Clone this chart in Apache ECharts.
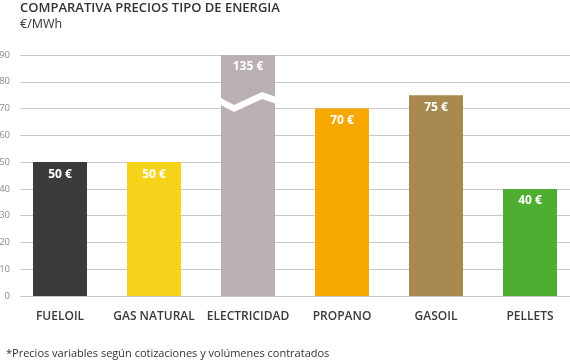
<!DOCTYPE html>
<html>
<head>
<meta charset="utf-8">
<script src="https://cdn.jsdelivr.net/npm/echarts@6/dist/echarts.min.js"></script>
<style>
html,body{margin:0;padding:0;background:#fff;}
#chart{width:570px;height:363px;}
</style>
</head>
<body>
<div id="chart"></div>
<script>
var categories = ['FUELOIL', 'GAS NATURAL', 'ELECTRICIDAD', 'PROPANO', 'GASOIL', 'PELLETS'];
var prices = [50, 50, 135, 70, 75, 40];
var barColors = ['#3a3c3a', '#f6d31a', '#bab0b1', '#f6a800', '#a8894f', '#4fae32'];
var yTicks = [0, 10, 20, 30, 40, 50, 60, 70, 80, 90];
// axis break drawn on the ELECTRICIDAD bar (value levels of the zigzag)
var breakCategory = 2;
var breakXFrac = [-0.5, -0.26, 0.26, 0.5];
var breakLevels = [72.6, 70.0, 74.9, 73.2];

var FONT = '"Open Sans", "DejaVu Sans", sans-serif';
var chart = echarts.init(document.getElementById('chart'), null, {renderer: 'canvas'});

var barData = prices.map(function (v, i) {
  return {value: v, itemStyle: {color: barColors[i]}};
});

var option = {
  animation: false,
  backgroundColor: '#ffffff',
  title: [
    {
      text: 'COMPARATIVA PRECIOS TIPO DE ENERGIA',
      subtext: '€/MWh',
      left: 20, top: 1, padding: 0, itemGap: 2,
      textStyle: {fontFamily: FONT, fontSize: 13, fontWeight: 600, color: '#333333', lineHeight: 14},
      subtextStyle: {fontFamily: FONT, fontSize: 12.5, fontWeight: 'normal', color: '#333333', lineHeight: 14}
    },
    {
      text: '*Precios variables según cotizaciones y volúmenes contratados',
      left: 6, top: 347, padding: 0,
      textStyle: {fontFamily: FONT, fontSize: 11, fontWeight: 'normal', color: '#333333', lineHeight: 13}
    }
  ],
  grid: [
    {left: 20, width: 550, top: 55, bottom: 67, outerBoundsMode: 'none', containLabel: false},
    {left: 13, width: 564, top: 55, bottom: 67, outerBoundsMode: 'none', containLabel: false}
  ],
  xAxis: [
    {gridIndex: 0, type: 'category', data: [''], show: false},
    {
      gridIndex: 1, type: 'category', data: categories,
      axisLine: {show: false}, axisTick: {show: false},
      axisLabel: {fontFamily: FONT, fontSize: 12, fontWeight: 600, color: '#3a3a3a', margin: 15, interval: 0}
    }
  ],
  yAxis: [
    {
      gridIndex: 0, type: 'value', min: yTicks[0], max: yTicks[yTicks.length - 1], interval: 10,
      axisLine: {show: false}, axisTick: {show: false},
      axisLabel: {fontFamily: FONT, fontSize: 9.5, color: '#8a8a8a', margin: 10},
      splitLine: {show: true, lineStyle: {color: '#c8c8c8', width: 1}}
    },
    {
      gridIndex: 1, type: 'value', min: yTicks[0], max: yTicks[yTicks.length - 1], interval: 10,
      show: false, splitLine: {show: false}
    }
  ],
  series: [
    {
      type: 'bar', xAxisIndex: 1, yAxisIndex: 1,
      data: barData, barWidth: 54, clip: true,
      label: {
        show: true, position: 'insideTop', distance: 6,
        formatter: '{c} €', color: '#ffffff',
        fontFamily: FONT, fontSize: 12, fontWeight: 'bold'
      },
      z: 2
    },
    {
      type: 'custom', xAxisIndex: 1, yAxisIndex: 1, z: 5, silent: true,
      data: [[breakCategory]],
      renderItem: function (params, api) {
        var cx = api.coord([api.value(0), 0])[0];
        var bw = 54;
        var half = 3.5;
        var top = [], bot = [];
        for (var i = 0; i < breakXFrac.length; i++) {
          var px = cx + breakXFrac[i] * bw;
          var py = api.coord([api.value(0), breakLevels[i]])[1];
          top.push([px, py - half]);
          bot.unshift([px, py + half]);
        }
        return {
          type: 'polygon',
          shape: {points: top.concat(bot)},
          style: {fill: '#ffffff'}
        };
      }
    }
  ]
};
chart.setOption(option);
</script>
</body>
</html>
